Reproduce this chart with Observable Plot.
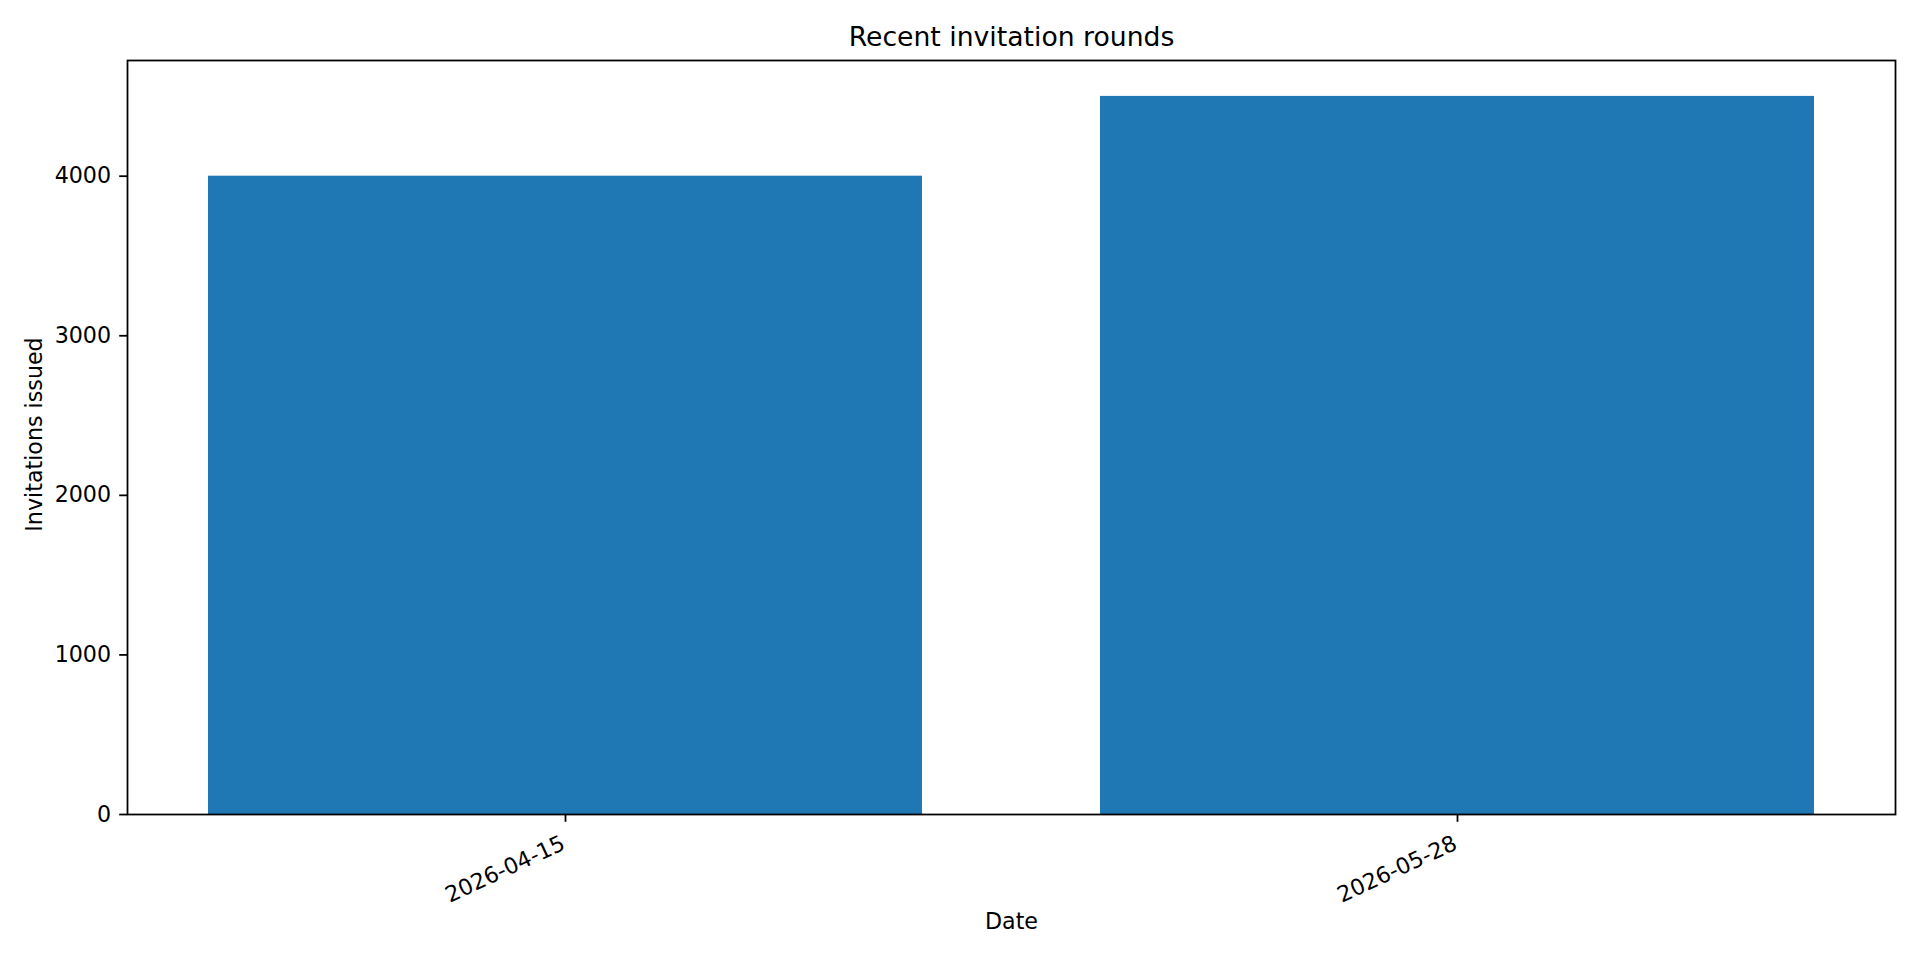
<!DOCTYPE html>
<html>
<head>
<meta charset="utf-8">
<script src="https://cdn.jsdelivr.net/npm/d3@7"></script>
<script src="https://cdn.jsdelivr.net/npm/@observablehq/plot@0.6"></script>
<style>
  html, body { margin: 0; padding: 0; background: #ffffff; }
  #chart { width: 1920px; height: 960px; }
</style>
</head>
<body>
<div id="chart"></div>
<script>
// ---- data ----
const dates = ["2026-04-15", "2026-05-28"];
const invitations = [4000, 4500];
const yTicks = [0, 1000, 2000, 3000, 4000];
const titleText = "Recent invitation rounds";
const xLabel = "Date";
const yLabel = "Invitations issued";

const rows = dates.map((d, i) => ({date: d, value: invitations[i]}));

const FONT = "DejaVu Sans, Verdana, sans-serif";
const LW = 1.78;
const TICK_FS = 22.2;

const chart = Plot.plot({
  width: 1920,
  height: 960,
  marginLeft: 127,
  marginRight: 25,
  marginTop: 60,
  marginBottom: 146,
  style: {fontFamily: FONT, background: "#ffffff", color: "#000000"},
  x: {type: "band", domain: dates, paddingInner: 0.2, paddingOuter: 0.09, align: 0.5, axis: null},
  y: {domain: [0, 4725], axis: null},
  marks: [
    Plot.barY(rows, {x: "date", y: "value", fill: "#1f77b4"}),
    Plot.frame({stroke: "#000000", strokeWidth: LW}),
    Plot.axisY({
      ticks: yTicks,
      tickSize: 7.8,
      tickPadding: 8.6,
      tickFormat: d3.format("d"),
      fontSize: TICK_FS,
      strokeWidth: LW,
      label: null
    }),
    Plot.axisX({
      tickSize: 7.8,
      tickFormat: () => "",
      strokeWidth: LW,
      label: null
    }),
    Plot.text(dates, {
      x: d => d,
      text: d => d,
      frameAnchor: "bottom",
      rotate: -25,
      textAnchor: "end",
      lineAnchor: "bottom",
      dx: 1,
      dy: 34,
      fontSize: TICK_FS,
      fill: "#000000"
    }),
    Plot.text([titleText], {
      text: d => d,
      frameAnchor: "top",
      lineAnchor: "bottom",
      dy: -14.3,
      fontSize: 26.67,
      fill: "#000000"
    }),
    Plot.text([xLabel], {
      text: d => d,
      frameAnchor: "bottom",
      lineAnchor: "bottom",
      dy: 114,
      fontSize: TICK_FS,
      fill: "#000000"
    }),
    Plot.text([yLabel], {
      text: d => d,
      frameAnchor: "left",
      rotate: -90,
      textAnchor: "middle",
      lineAnchor: "bottom",
      dx: -85.3,
      dy: -3,
      fontSize: TICK_FS,
      fill: "#000000"
    })
  ]
});
document.getElementById("chart").appendChild(chart);
</script>
</body>
</html>
